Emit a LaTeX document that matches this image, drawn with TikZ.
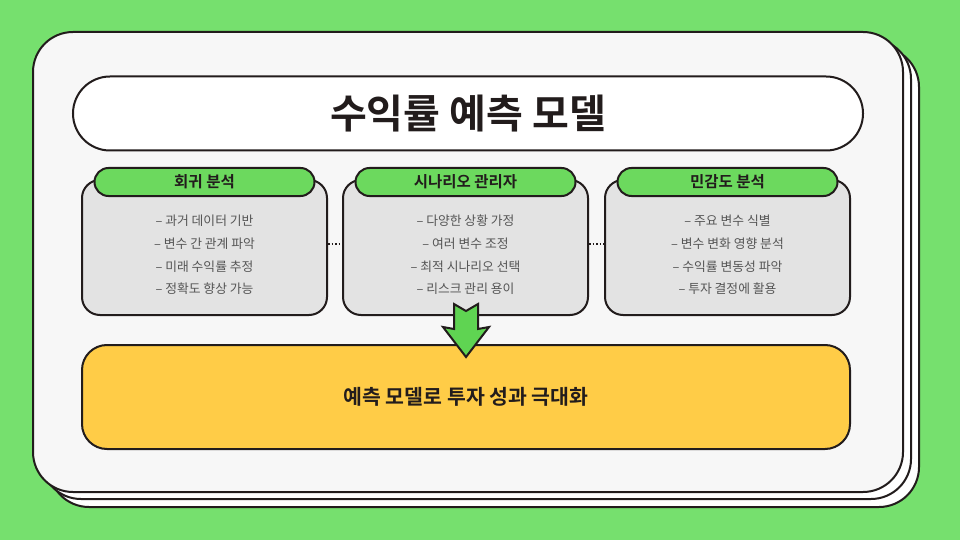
\documentclass[tikz,border=0pt]{standalone}
\usepackage{fontspec}
\setmainfont{Noto Sans CJK KR}[BoldFont={Noto Sans CJK KR Bold}]
\usetikzlibrary{positioning,calc}
\definecolor{bggreen}{RGB}{118,224,110}
\definecolor{cardgray}{RGB}{247,247,247}
\definecolor{boxgray}{RGB}{227,227,227}
\definecolor{headgreen}{RGB}{108,217,94}
\definecolor{arrgreen}{RGB}{95,212,82}
\definecolor{goalyellow}{RGB}{255,204,71}
\definecolor{ink}{RGB}{34,28,28}
\definecolor{itemgray}{RGB}{85,85,85}
\tikzset{
  card/.style={draw=ink, line width=2pt, fill=cardgray, rounded corners=40pt},
  panel/.style={draw=ink, line width=2pt, fill=boxgray, rounded corners=18pt,
    minimum width=245pt, minimum height=135pt},
  head/.style={draw=ink, line width=2pt, fill=headgreen, rounded corners=14pt,
    minimum width=220pt, minimum height=28pt, inner sep=0pt,
    font=\bfseries\fontsize{15.5}{15.5}\selectfont, text=ink},
  items/.style={align=center, text=itemgray, inner sep=0pt,
    font=\fontsize{12.8}{22.6}\selectfont},
}
\begin{document}
\begin{tikzpicture}[x=1pt,y=-1pt]
\fill[bggreen] (0,0) rectangle (960,540);
\useasboundingbox (0,0) rectangle (960,540);
\draw[card, fill=white] (49,47) rectangle (919,507);
\draw[card, fill=white] (41,39) rectangle (911,499);
\draw[card] (33,32) rectangle (903,492);

\node[draw=ink, line width=2pt, fill=white, rounded corners=37pt,
  minimum width=790pt, minimum height=74pt, text=ink,
  font=\bfseries\fontsize{40}{40}\selectfont] (title) at (468,113.5) {수익률 예측 모델};

\node[panel] (b1) at (204.5,247.5) {};
\node[panel] (b2) at (465.5,247.5) {};
\node[panel] (b3) at (727.5,247.5) {};
\node[head] (h1) at ([yshift=-3pt]b1.north) {회귀 분석};
\node[head] (h2) at ([yshift=-3pt]b2.north) {시나리오 관리자};
\node[head] (h3) at ([yshift=-3pt]b3.north) {민감도 분석};
\node[items] (t1) at ([yshift=-7.5pt]b1.center) {– 과거 데이터 기반\\– 변수 간 관계 파악\\– 미래 수익률 추정\\– 정확도 향상 가능};
\node[items] (t2) at ([yshift=-7.5pt]b2.center) {– 다양한 상황 가정\\– 여러 변수 조정\\– 최적 시나리오 선택\\– 리스크 관리 용이};
\node[items] (t3) at ([yshift=-7.5pt]b3.center) {– 주요 변수 식별\\– 변수 변화 영향 분석\\– 수익률 변동성 파악\\– 투자 결정에 활용};

\draw[ink, line width=1.5pt, dotted] ([yshift=3.5pt]b1.east) -- ([yshift=3.5pt]b2.west);
\draw[ink, line width=1.5pt, dotted] ([yshift=3.5pt]b2.east) -- ([yshift=3.5pt]b3.west);

\node[draw=ink, line width=2pt, fill=goalyellow, rounded corners=25pt,
  minimum width=768pt, minimum height=104pt, text=ink,
  font=\bfseries\fontsize{20.5}{20.5}\selectfont] (goal) at (466,397) {예측 모델로 투자 성과 극대화};

\coordinate (tip) at (466,357);
\draw[ink, line width=2pt, fill=arrgreen, line join=miter]
  (tip) -- ++(23,-30) -- ++(-11,2) -- ++(0,-25) -- ++(-12,7) -- ++(-12,-7)
  -- ++(0,25) -- ++(-11,-2) -- cycle;
\end{tikzpicture}
\end{document}
